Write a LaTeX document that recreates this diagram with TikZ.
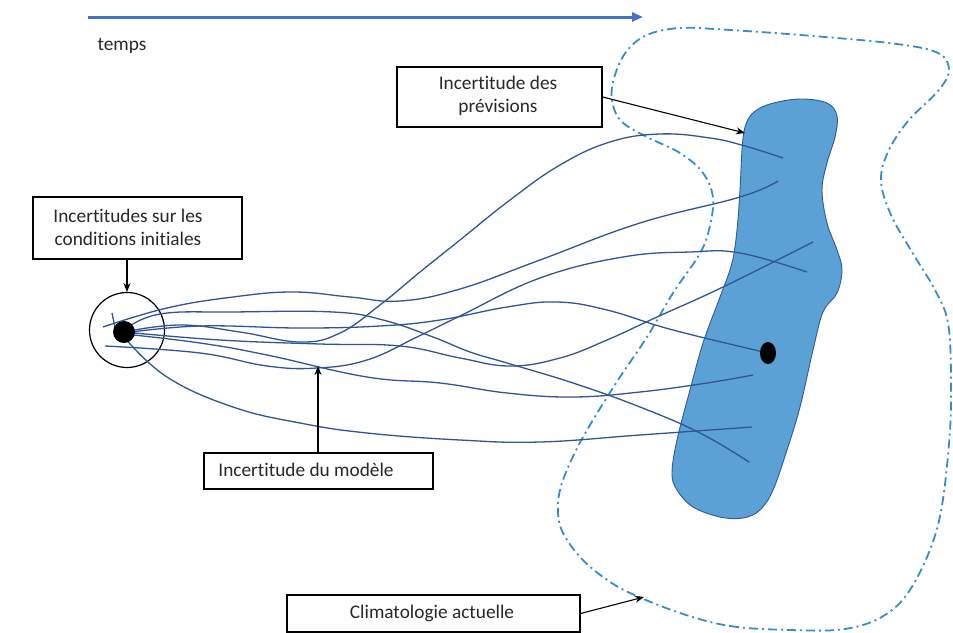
\documentclass[tikz,border=0pt]{standalone}
\usepackage{fontspec}
\setmainfont{Carlito}[Ligatures=NoCommon]
\usetikzlibrary{arrows.meta}
\definecolor{traj}{RGB}{47,85,151}
\definecolor{timeblue}{RGB}{68,114,196}
\definecolor{blobfill}{RGB}{91,161,213}
\definecolor{blobline}{RGB}{50,90,150}
\definecolor{climblue}{RGB}{54,140,208}
\definecolor{txt}{RGB}{40,40,40}
\tikzset{
  labelbox/.style={draw=black, line width=1.2pt, fill=white, inner sep=0pt},
  labeltext/.style={text=txt, font=\fontsize{19.3}{23}\selectfont, align=center, inner sep=0pt},
  pointer/.style={draw=black, line width=1.1pt, -{Stealth[length=9pt,width=7pt]}},
  trajectory/.style={draw=traj, line width=1.3pt},
}
\begin{document}
\begin{tikzpicture}[x=1pt,y=-1pt]
\useasboundingbox (0,0) rectangle (953,632);

% time axis
\coordinate (t0) at (88,17);
\coordinate (t1) at (643,17);
\draw[timeblue, line width=3pt, -{Triangle[length=11pt,width=9pt]}] (t0) -- (t1);
\node[labeltext] (temps) at (122,46) {temps};

% climatology (dash-dot)
\draw[climblue, line width=1.8pt, dash pattern=on 9pt off 4pt on 2pt off 4pt]
  plot[smooth cycle, tension=0.6] coordinates {
  (680,613) (730,626) (790,630) (845,629) (885,615) (913,585) (938,525) (949,444)
  (951,380) (948,323) (935,290) (912,252) (891,215) (881,181) (888,152) (908,121)
  (938,91) (949,70) (938,53) (897,44) (813,36) (730,30) (680,28) (647,35) (626,52)
  (614,78) (612,100) (621,121) (647,137) (680,153) (703,173) (713,198) (709,230)
  (699,255) (673,293) (647,337) (618,380) (587,430) (570,463) (560,490) (558,513)
  (563,533) (580,557) (603,577) (630,593)};

% forecast blob
\draw[blobline, line width=0.9pt, fill=blobfill]
  plot[smooth cycle, tension=0.6] coordinates {
  (745,127) (753,113) (770,104) (800,99) (827,103) (837,116) (835,137) (827,163)
  (822,190) (827,223) (837,250) (842,270) (837,293) (823,312) (813,350) (800,407)
  (787,450) (773,490) (760,510) (743,518) (720,517) (693,507) (677,490) (672,473)
  (677,440) (690,390) (703,343) (720,297) (732,263) (737,230) (740,190) (742,150)};

% initial condition circle
\node[draw=black, line width=1.2pt, circle, minimum size=75pt, inner sep=0pt] (ic) at (127,330) {};

% trajectories
\draw[trajectory] plot[smooth, tension=0.7] coordinates {(124,332) (180,325) (240,332) (300,342) (340,333) (380,305) (420,272) (460,240) (510,200) (560,165) (610,142) (660,134) (710,138) (745,146) (783,158)};
\draw[trajectory] plot[smooth, tension=0.7] coordinates {(103,327) (167,308) (233,297) (293,292) (350,297) (400,301) (460,289) (540,260) (640,223) (740,197) (778,181)};
\draw[trajectory] plot[smooth, tension=0.7] coordinates {(124,330) (160,314) (233,312) (333,312) (383,320) (433,337) (470,352) (507,363) (573,383) (640,407) (700,433) (749,462)};
\draw[trajectory] plot[smooth, tension=0.7] coordinates {(105,346) (200,353) (267,366) (317,368) (367,360) (417,337) (460,316) (540,278) (623,257) (690,252) (740,253) (807,272)};
\draw[trajectory] plot[smooth, tension=0.7] coordinates {(124,332) (220,340) (320,344) (400,346) (460,358) (510,366) (560,358) (607,340) (657,317) (723,287) (813,242)};
\draw[trajectory] plot[smooth, tension=0.7] coordinates {(124,333) (200,326) (300,328) (380,326) (440,320) (507,307) (557,302) (607,310) (673,330) (768,353)};
\draw[trajectory] plot[smooth, tension=0.7] coordinates {(124,334) (200,343) (267,355) (367,377) (440,383) (507,393) (573,397) (640,392) (707,383) (753,375)};
\draw[trajectory] plot[smooth, tension=0.7] coordinates {(124,337) (167,377) (233,407) (300,423) (367,433) (460,440) (540,442) (640,435) (752,427)};
\draw[trajectory] (112,313) -- (116,332);

% black dots
\fill[black] (124,332) circle (11pt);
\fill[black] (768,353) ellipse (8pt and 11pt);

% label boxes
\node[labelbox, minimum width=209pt, minimum height=62pt] (bic) at (137.5,228) {};
\node[labeltext] (tic) at (128,227) {Incertitudes sur les\\conditions initiales};

\node[labelbox, minimum width=205pt, minimum height=60pt] (bprev) at (499.5,97) {};
\node[labeltext] (tprev) at (498,96) {Incertitude des\\prévisions};

\node[labelbox, minimum width=229pt, minimum height=36pt] (bmod) at (318.5,471) {};
\node[labeltext] (tmod) at (306,470) {Incertitude du modèle};

\node[labelbox, minimum width=293pt, minimum height=37pt] (bclim) at (433.5,613.5) {};
\node[labeltext] (tclim) at (432,613) {Climatologie actuelle};

% pointers
\coordinate (pic) at (127,292);
\coordinate (pprev) at (745,133);
\coordinate (pmod) at (318,366);
\coordinate (pclim) at (644,597);
\draw[pointer] (bic.south -| pic) -- (pic);
\draw[pointer] (bprev.east) -- (pprev);
\draw[pointer] (bmod.north -| pmod) -- (pmod);
\draw[pointer] (bclim.east) -- (pclim);
\end{tikzpicture}
\end{document}
